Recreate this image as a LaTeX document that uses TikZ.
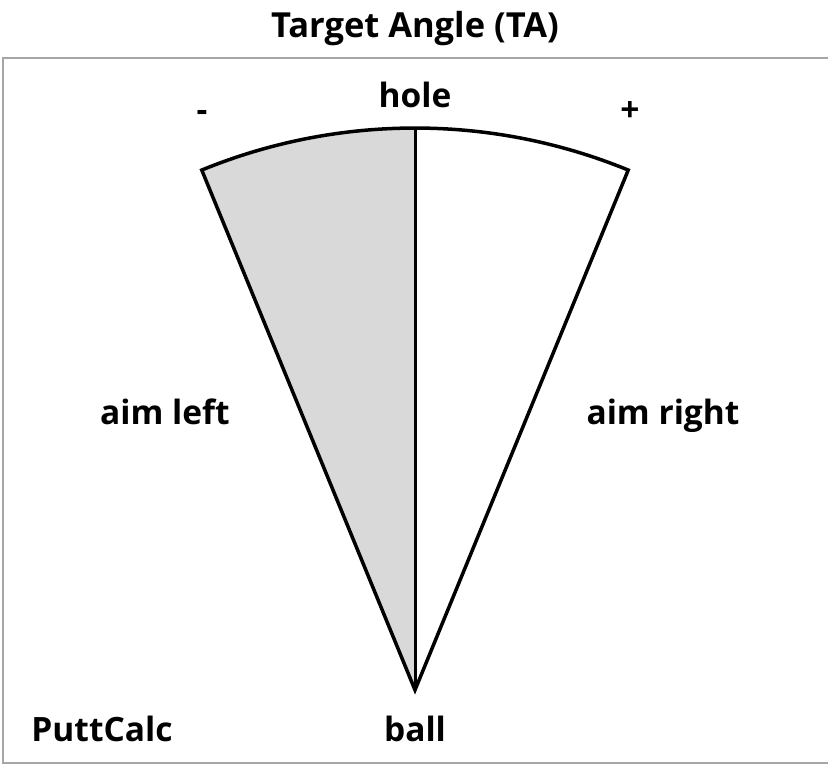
\documentclass[tikz,border=0pt]{standalone}
\usepackage{fontspec}
\setmainfont{Open Sans}
\usetikzlibrary{positioning, calc}

\begin{document}
\begin{tikzpicture}[
    x=1pt, y=-1pt,
    every node/.style={font=\bfseries\fontsize{33.5}{40}\selectfont, inner sep=0pt},
    lbl/.style={anchor=base},
    wedge/.style={line width=3.5pt, line join=miter},
    frame/.style={draw=gray!70, line width=1.5pt}
  ]
  \useasboundingbox (0,0) rectangle (828,765);

  % frame
  \draw[frame] (828,58) -- (3,58) -- (3,763) -- (828,763);

  % title
  \node[lbl, font=\bfseries\fontsize{34.5}{40}\selectfont] (title) at (415,38) {Target Angle (TA)};

  % sector
  \coordinate (ball) at (415,690);
  \coordinate (top) at (415,128);
  \coordinate (lcorner) at ($(ball)+(-112.3:562)$);
  \coordinate (rcorner) at ($(ball)+(-67.7:562)$);
  \fill[gray!30] (ball) -- (lcorner) arc[start angle=-112.3, end angle=-90, radius=562] -- cycle;
  \draw[wedge] (ball) -- (lcorner) arc[start angle=-112.3, end angle=-67.7, radius=562] -- cycle;
  \draw[line width=3pt] (ball) -- (top);

  % labels
  \node[lbl] (hole) at (415,108) {hole};
  \node[lbl] (minus) at (202,122) {-};
  \node[lbl] (plus) at (630,122) {+};
  \node[lbl] (left) at (165,424) {aim left};
  \node[lbl] (right) at (663,424) {aim right};
  \node[lbl] (calc) at (102,741) {PuttCalc};
  \node[lbl] (balllbl) at (415,741) {ball};
\end{tikzpicture}
\end{document}
